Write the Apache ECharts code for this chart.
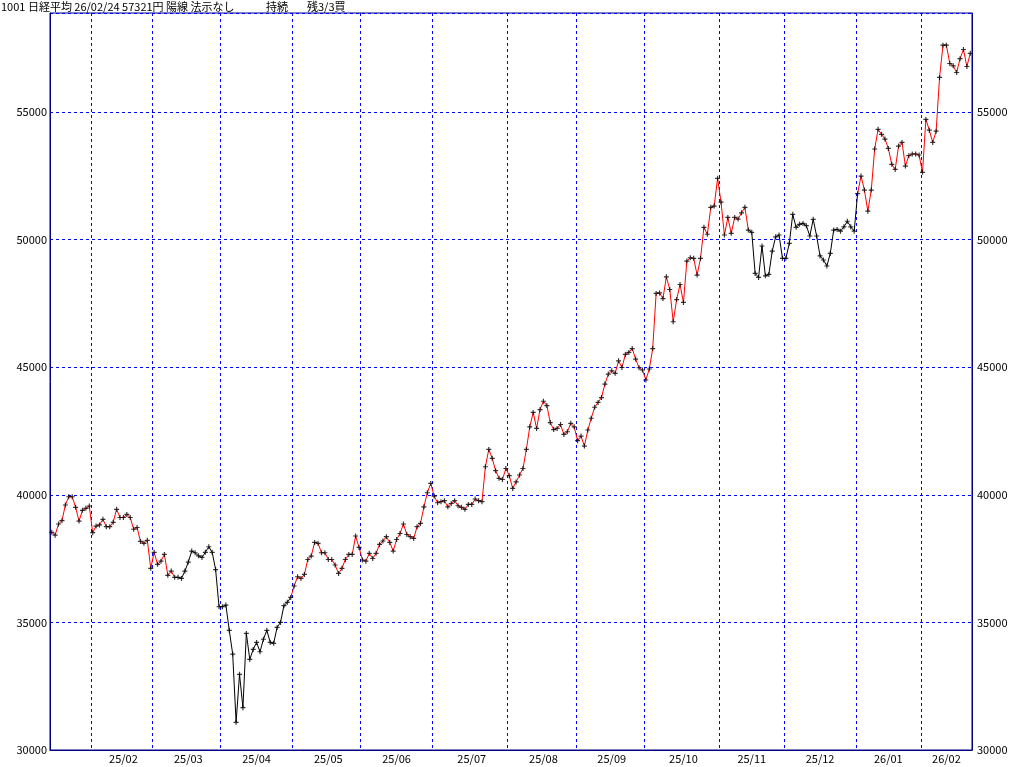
<!DOCTYPE html>
<html><head><meta charset="utf-8">
<script src="https://cdn.jsdelivr.net/npm/echarts@6/dist/echarts.min.js"></script>
<style>html,body{margin:0;padding:0;background:#fff}#c{width:1024px;height:767px}</style>
</head><body><div id="c"></div>
<script>
const closes = [
38530,38420,38855,38985,39600,39925,39925,39510,38970,39390,39470,39560,
38515,38775,38820,39040,38750,38750,38920,39430,39110,39110,39230,39110,38650,38720,38175,38100,38215,37120,
37745,37275,37400,37665,36845,37010,36765,36765,36725,37010,37365,37795,37730,37610,37545,37745,37965,37745,37070,35615,
35615,35680,34690,33760,31085,32965,31660,34570,33550,33940,34215,33850,34340,34690,34215,34180,34805,35000,35655,35785,35980,
36425,36790,36725,36880,37465,37600,38135,38100,37730,37730,37465,37465,37250,36920,37120,37465,37665,37665,38385,37940,
37445,37400,37705,37505,37705,38055,38190,38360,38135,37795,38250,38485,38855,38445,38360,38290,38750,38880,39530,40080,40445,
39950,39690,39730,39770,39530,39660,39770,39570,39510,39430,39625,39625,39835,39770,39730,41100,41780,41430,40945,40645,40600,41030,
40750,40250,40505,40775,41030,41780,42665,43230,42600,43340,43665,43495,42830,42555,42600,42755,42365,42470,42800,42665,
42120,42300,41910,42540,43000,43430,43620,43810,44340,44730,44860,44760,45250,44990,45500,45580,45730,45320,44980,44890,
44500,44930,45730,47890,47910,47690,48540,48045,46780,47650,48240,47540,49160,49290,49265,48610,49265,50480,50210,51265,51315,52400,
51470,50180,50870,50245,50870,50805,51050,51265,50375,50285,48675,48520,49750,48580,48635,49550,50110,50180,
49265,49265,49855,50990,50480,50600,50635,50545,50140,50795,50140,49360,49200,48965,49460,50375,50400,50330,50500,50720,50500,50330,
51800,52490,51940,51115,51940,53550,54320,54125,53940,53575,52950,52750,53665,53810,52880,53290,53355,53355,53315,
52635,54710,54290,53810,54250,56355,57620,57620,56900,56810,56550,57090,57450,56785,57300
];
const monthStarts = [12,30,50,71,91,112,134,154,174,196,215,236,255];
const monthLabels = ['25/02','25/03','25/04','25/05','25/06','25/07','25/08','25/09','25/10','25/11','25/12','26/01','26/02'];
const blackRanges = [[37,70],[205,236]];
const yTicks = [30000,35000,40000,45000,50000,55000];

const N = closes.length;
const cats = closes.map((_, i) => String(i));
const labelAt = {};
monthStarts.forEach((s, k) => {
  const e = k + 1 < monthStarts.length ? monthStarts[k + 1] : N;
  labelAt[Math.floor((s + e) / 2)] = monthLabels[k];
});
const isBlackSeg = i => blackRanges.some(r => i >= r[0] && i <= r[1]);
const segRed = i => i >= 1 && i < N && !isBlackSeg(i);
const segBlack = i => i >= 1 && i < N && isBlackSeg(i);
const redData = closes.map((v, i) => (segRed(i) || segRed(i + 1)) ? v : null);
const blackData = closes.map((v, i) => (segBlack(i) || segBlack(i + 1)) ? v : null);
const navy = '#000080';
const grid = '#0000ff';
const font = '"Noto Sans CJK JP", sans-serif';

const chart = echarts.init(document.getElementById('c'));
chart.setOption({
  animation: false,
  grid: { left: 50, right: 52, top: 13, bottom: 17, show: true, borderColor: navy, borderWidth: 1 },
  xAxis: {
    type: 'category', data: cats, boundaryGap: true,
    axisLine: { lineStyle: { color: navy } }, axisTick: { show: false },
    axisLabel: { interval: i => labelAt[i] !== undefined, formatter: (v, i) => labelAt[i] || '',
      color: '#000', fontSize: 11, fontFamily: font, margin: 3 },
    splitLine: { show: true, interval: i => monthStarts.includes(i),
      lineStyle: { color: grid, type: [3, 3], width: 1 } }
  },
  yAxis: [0, 1].map(k => ({
    type: 'value', min: 30000, max: 58880, interval: 5000, position: k ? 'right' : 'left',
    axisLine: { show: true, lineStyle: { color: navy } }, axisTick: { show: false },
    axisLabel: { color: '#000', fontSize: 11, fontFamily: font, margin: k ? 5 : 3,
      showMaxLabel: false, formatter: v => yTicks.includes(v) ? String(v) : '' },
    splitLine: { show: k === 0, lineStyle: { color: grid, type: [3, 3], width: 1 } }
  })),
  series: [
    { type: 'line', data: redData, symbol: 'none', lineStyle: { color: '#ff0000', width: 1 }, connectNulls: false },
    { type: 'line', data: blackData, symbol: 'none', lineStyle: { color: '#000', width: 1 }, connectNulls: false },
    { type: 'scatter', data: closes, symbol: 'path://M-0.7,-3H0.7V-0.7H3V0.7H0.7V3H-0.7V0.7H-3V-0.7H-0.7Z', symbolSize: 5,
      itemStyle: { color: '#000' }, z: 5 }
  ],
  graphic: [
    { type: 'text', left: 1, top: 1, style: { text: '1001 日経平均 26/02/24 57321円 陽線 法示なし', font: '11px ' + font, fill: '#000' } },
    { type: 'text', left: 266, top: 1, style: { text: '持続', font: '11px ' + font, fill: '#000' } },
    { type: 'text', left: 307, top: 1, style: { text: '残3/3買', font: '11px ' + font, fill: '#000' } }
  ]
});
</script></body></html>
